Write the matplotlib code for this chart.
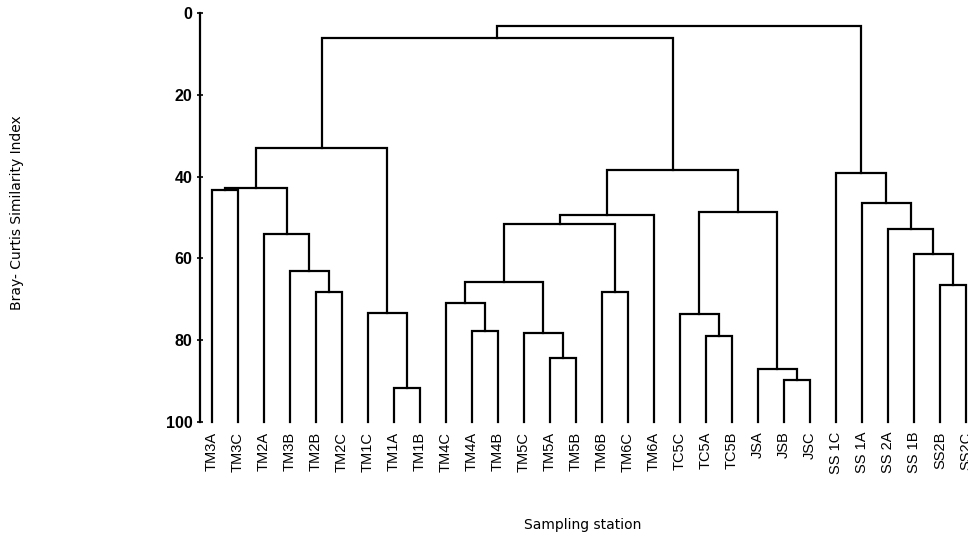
import matplotlib
matplotlib.use('Agg')
import matplotlib.pyplot as plt

plt.rcParams['font.family'] = ['Liberation Sans', 'DejaVu Sans']

# Data: leaf order and merges (left child, right child, similarity level)
leaves = ['TM3A', 'TM3C', 'TM2A', 'TM3B', 'TM2B', 'TM2C', 'TM1C', 'TM1A', 'TM1B',
          'TM4C', 'TM4A', 'TM4B', 'TM5C', 'TM5A', 'TM5B', 'TM6B', 'TM6C', 'TM6A',
          'TC5C', 'TC5A', 'TC5B', 'JSA', 'JSB', 'JSC',
          'SS 1C', 'SS 1A', 'SS 2A', 'SS 1B', 'SS2B', 'SS2C']

merge_left = ['TM2B', 'TM3B', 'TM2A', 'TM3A', 'n4', 'TM1A', 'TM1C', 'n5',
              'TM4A', 'TM4C', 'TM5A', 'TM5C', 'n10', 'TM6B', 'n13', 'n15',
              'TC5A', 'TC5C', 'JSB', 'JSA', 'n18', 'n16', 'n8',
              'SS2B', 'SS 1B', 'SS 2A', 'SS 1A', 'SS 1C', 'n23']
merge_right = ['TM2C', 'n1', 'n2', 'TM3C', 'n3', 'TM1B', 'n6', 'n7',
               'TM4B', 'n9', 'TM5B', 'n11', 'n12', 'TM6C', 'n14', 'TM6A',
               'TC5B', 'n17', 'JSC', 'n19', 'n20', 'n21', 'n22',
               'SS2C', 'n24', 'n25', 'n26', 'n27', 'n28']
merge_level = [68.2, 63.0, 54.0, 43.3, 42.8, 91.7, 73.3, 33.0,
               77.8, 71.0, 84.4, 78.3, 65.8, 68.2, 51.7, 49.4,
               78.9, 73.7, 89.7, 87.0, 48.6, 38.4, 6.0,
               66.5, 58.9, 52.8, 46.5, 39.0, 3.2]

fig = plt.figure(figsize=(9.68, 5.42), dpi=100)
ax = fig.add_axes([0.2066, 0.2214, 0.7934, 0.7546])

pos = {name: i for i, name in enumerate(leaves)}
lvl = {name: 100 for name in leaves}
for k, (a, b, h) in enumerate(zip(merge_left, merge_right, merge_level)):
    node = f'n{k + 1}'
    ax.plot([pos[a], pos[a], pos[b], pos[b]], [lvl[a], h, h, lvl[b]],
            color='black', lw=1.6, solid_joinstyle='miter', clip_on=False)
    pos[node] = (pos[a] + pos[b]) / 2
    lvl[node] = h

ax.set_xlim(-0.46, 29.08)
ax.set_ylim(100, 0)
ax.set_yticks([0, 20, 40, 60, 80, 100])
ax.tick_params(axis='y', direction='inout', length=5, width=1.2, pad=3, labelsize=11.5)
for t in ax.get_yticklabels():
    t.set_fontweight('bold')

ax.set_xticks(range(len(leaves)))
ax.set_xticklabels(leaves, rotation=90, fontsize=10.5)
ax.tick_params(axis='x', length=0, pad=7)

for side in ['top', 'right', 'bottom']:
    ax.spines[side].set_visible(False)
ax.spines['left'].set_linewidth(1.6)

fig.text(0.602, 0.031, 'Sampling station', ha='center', va='center',
         fontsize=10, family='DejaVu Sans')
fig.text(0.018, 0.607, 'Bray- Curtis Similarity Index', ha='center', va='center',
         rotation=90, fontsize=10, family='DejaVu Sans')

fig.savefig('out.png', dpi=100)
